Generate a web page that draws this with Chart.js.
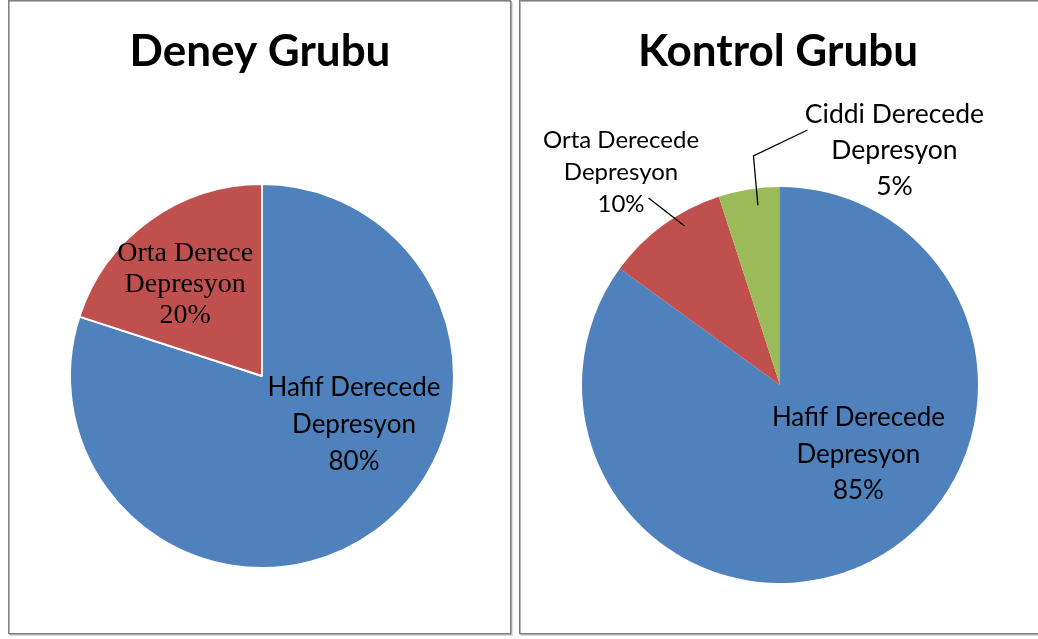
<!DOCTYPE html>
<html>
<head>
<meta charset="utf-8">
<script src="https://cdn.jsdelivr.net/npm/chart.js@4.4.0/dist/chart.umd.min.js"></script>
<style>
  body { margin: 0; background: #fff; width: 1038px; height: 639px; overflow: hidden; position: relative; }
  .panel { position: absolute; top: 0; height: 632px; border: 1px solid #7f7f7f;
           box-shadow: inset 1px 1px 0 #b4b4b4, 1px 1px 0 #a8a8a8, 2px 2px 0 #dcdcdc; background: #fff; }
  .panel canvas { position: absolute; left: 0; top: 0; }
</style>
</head>
<body>
<div class="panel" style="left:8px; width:501px"><canvas id="deney" width="501" height="632"></canvas></div>
<div class="panel" style="left:519px; width:530px"><canvas id="kontrol" width="530" height="632"></canvas></div>
<script>
// data
const deneyTitle = 'Deney Grubu';
const deneyLabels = ['Hafif Derecede Depresyon', 'Orta Derece Depresyon'];
const deneyValues = [80, 20];
const deneyColors = ['#4F81BD', '#C0504D'];

const kontrolTitle = 'Kontrol Grubu';
const kontrolLabels = ['Hafif Derecede Depresyon', 'Orta Derecede Depresyon', 'Ciddi Derecede Depresyon'];
const kontrolValues = [85, 10, 5];
const kontrolColors = ['#4F81BD', '#C0504D', '#9BBB59'];

// label lines: name split as in the picture, percent added from the values
const deneyLines = [['Hafif Derecede', 'Depresyon'], ['Orta Derece', 'Depresyon']];
const kontrolLines = [['Hafif Derecede', 'Depresyon'], ['Orta Derecede', 'Depresyon'], ['Ciddi Derecede', 'Depresyon']];

// where each label sits, in radius units from the pie center
// leader: bend points (radius units), then it ends inside the slice at (t along the arc, r fraction)
const deneyLabelPos = [
  { dx: 0.479, dy: 0.25, font: 'Lato', size: 26, lh: 37 },
  { dx: -0.40, dy: -0.49, font: '"Liberation Serif"', size: 28, lh: 31 }
];
const kontrolLabelPos = [
  { dx: 0.396, dy: 0.345, font: 'Lato', size: 26, lh: 36.5 },
  { dx: -0.803, dy: -1.078, font: 'Lato', size: 24, lh: 32, leader: [[-0.664, -0.944]], end: [0.64, 0.937] },
  { dx: 0.578, dy: -1.188, font: 'Lato', size: 26.5, lh: 36, leader: [[0.139, -1.288], [-0.134, -1.157]], end: [0.61, 0.915] }
];

function labelPlugin(title, lines, pos) {
  return {
    id: 'sliceLabels',
    afterDatasetsDraw(chart) {
      const ctx = chart.ctx;
      const arcs = chart.getDatasetMeta(0).data;
      const vals = chart.data.datasets[0].data;
      const total = vals.reduce((a, b) => a + b, 0);
      ctx.save();
      // title
      ctx.fillStyle = '#000';
      ctx.font = 'bold 44px Lato';
      ctx.textAlign = 'center';
      ctx.textBaseline = 'alphabetic';
      ctx.fillText(title, arcs[0].x - 2, 65);

      arcs.forEach((arc, i) => {
        const p = pos[i];
        const r = arc.outerRadius;
        const cx = arc.x + p.dx * r;
        const cy = arc.y + p.dy * r;
        const txt = lines[i].concat([Math.round(vals[i] / total * 100) + '%']);
        ctx.font = p.size + 'px ' + p.font;
        ctx.fillStyle = '#000';
        const n = txt.length;
        txt.forEach((t, k) => {
          const y = cy + (k - (n - 1) / 2) * p.lh + p.size * 0.36;
          ctx.fillText(t, cx, y);
        });
        if (p.leader) {
          const ang = arc.startAngle + (arc.endAngle - arc.startAngle) * p.end[0];
          ctx.beginPath();
          ctx.strokeStyle = '#000';
          ctx.lineWidth = 1.3;
          p.leader.forEach((pt, k) => {
            const x = arc.x + pt[0] * r, y = arc.y + pt[1] * r;
            if (k === 0) ctx.moveTo(x, y); else ctx.lineTo(x, y);
          });
          ctx.lineTo(arc.x + Math.cos(ang) * r * p.end[1], arc.y + Math.sin(ang) * r * p.end[1]);
          ctx.stroke();
        }
      });
      ctx.restore();
    }
  };
}

function makePie(id, labels, values, colors, border, padding, title, lines, pos) {
  return new Chart(document.getElementById(id), {
    type: 'pie',
    data: {
      labels: labels,
      datasets: [{
        data: values,
        backgroundColor: colors,
        borderColor: '#fff',
        borderWidth: border
      }]
    },
    options: {
      responsive: false,
      animation: false,
      layout: { padding: padding },
      plugins: {
        legend: { display: false },
        title: { display: false },
        tooltip: { enabled: false }
      }
    },
    plugins: [labelPlugin(title, lines, pos)]
  });
}

makePie('deney', deneyLabels, deneyValues, deneyColors, 2,
  { left: 60, right: 55, top: 182, bottom: 64 }, deneyTitle, deneyLines, deneyLabelPos);
makePie('kontrol', kontrolLabels, kontrolValues, kontrolColors, 0,
  { left: 62, right: 72, top: 186, bottom: 50 }, kontrolTitle, kontrolLines, kontrolLabelPos);
</script>
</body>
</html>
